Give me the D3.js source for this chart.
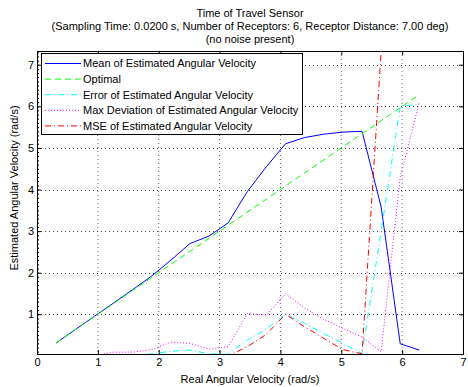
<!DOCTYPE html>
<html>
<head>
  <title>Time of Travel Sensor</title>
  <script type="text/javascript" src="https://d3js.org/d3.v7.min.js"></script>
  <style>
    body { margin: 0; background: #fff; }
    text { font-family: "Liberation Sans", Arial, sans-serif; fill: #000; }
  </style>
</head>
<body>
  <div id="container"></div>
  <script type="text/javascript">
    // real angular velocity: k*pi/10, k = 1..20
    var realVel = [0.314, 0.628, 0.942, 1.257, 1.571, 1.885, 2.199, 2.513, 2.827, 3.142,
                   3.456, 3.770, 4.084, 4.398, 4.712, 5.027, 5.341, 5.655, 5.969, 6.283];
    var meanEst = [0.31, 0.63, 0.95, 1.27, 1.59, 1.92, 2.30, 2.70, 2.88, 3.20,
                   3.95, 4.55, 5.10, 5.25, 5.33, 5.38, 5.40, 3.58, 0.29, 0.14];
    var optimal = realVel.slice();
    var errEst  = [0, 0, 0, 0, 0, 0.05, 0.11, 0.14, 0.05, 0.04,
                   0.38, 0.65, 1.00, 0.78, 0.54, 0.30, 0.06, 3.00, 6.00, 6.05];
    var maxDev  = [0, 0, 0, 0.09, 0.09, 0.15, 0.33, 0.30, 0.16, 0.22,
                   1.02, 0.98, 1.49, 1.15, 0.88, 0.66, 0.45, 0.10, 4.30, 6.10];
    var mseEst  = [0, 0, 0, 0, 0, 0, 0, 0, 0, 0,
                   0.22, 0.52, 1.00, 0.70, 0.42, 0.15, 0.05, 7.33, null, null];

    var xTicks = [0, 1, 2, 3, 4, 5, 6, 7];
    var yTicks = [1, 2, 3, 4, 5, 6, 7];
    var titleLines = ['Time of Travel Sensor',
      '(Sampling Time: 0.0200 s, Number of Receptors: 6, Receptor Distance: 7.00 deg)',
      '(no noise present)'];

    var series = [
      {name: 'Mean of Estimated Angular Velocity', values: meanEst, color: '#0000ff', dash: null},
      {name: 'Optimal', values: optimal, color: '#00ff00', dash: '6,4'},
      {name: 'Error of Estimated Angular Velocity', values: errEst, color: '#00ffff', dash: '6,3,1,3'},
      {name: 'Max Deviation of Estimated Angular Velocity', values: maxDev, color: '#ff00ff', dash: '1,2'},
      {name: 'MSE of Estimated Angular Velocity', values: mseEst, color: '#ff0000', dash: '6,3,1,3'}
    ];

    function drawChart() {
      var W = 468, H = 387;
      var margin = {top: 51, right: 5, bottom: 33, left: 37};
      var width = W - margin.left - margin.right,
          height = H - margin.top - margin.bottom;

      var svg = d3.select('#container').append('svg')
        .attr('width', W).attr('height', H);

      var x = d3.scaleLinear().domain([0, 7]).range([0, width]);
      var y = d3.scaleLinear().domain([0.045, 7.33]).range([height, 0]);

      var gp = svg.append('g').attr('transform', `translate(${margin.left},${margin.top})`);

      svg.append('defs').append('clipPath').attr('id', 'plotclip')
        .append('rect').attr('width', width).attr('height', height);

      // grid
      gp.selectAll('.vgrid').data(xTicks.slice(1, -1)).enter().append('line')
        .attr('x1', d => x(d)).attr('x2', d => x(d))
        .attr('y1', 0).attr('y2', height)
        .attr('stroke', '#666').attr('stroke-dasharray', '1,3');
      gp.selectAll('.hgrid').data(yTicks).enter().append('line')
        .attr('x1', 0).attr('x2', width)
        .attr('y1', d => Math.round(y(d)) + 0.5).attr('y2', d => Math.round(y(d)) + 0.5)
        .attr('stroke', '#444').attr('stroke-dasharray', '1,3');

      // axes (ticks inside, on all sides)
      var xb = gp.append('g').attr('transform', `translate(0,${height})`)
        .call(d3.axisBottom(x).tickValues(xTicks).tickSize(-4).tickPadding(4).tickFormat(d3.format('d')));
      var xt = gp.append('g')
        .call(d3.axisTop(x).tickValues(xTicks).tickSize(-4).tickFormat(''));
      var yl = gp.append('g')
        .call(d3.axisLeft(y).tickValues(yTicks).tickSize(-4).tickPadding(3).tickFormat(d3.format('d')));
      var yr = gp.append('g').attr('transform', `translate(${width},0)`)
        .call(d3.axisRight(y).tickValues(yTicks).tickSize(-4).tickFormat(''));
      // minor ticks on left axis
      gp.append('g')
        .call(d3.axisLeft(y).tickValues(d3.range(1, 74).map(d => d / 10)).tickSize(-2).tickFormat(''))
        .call(g => g.select('.domain').remove());
      [xb, xt, yl, yr].forEach(function (g) {
        g.selectAll('text').style('font-size', '11px').style('font-family', '"Liberation Sans", Arial, sans-serif');
        g.selectAll('path,line').attr('stroke', '#000');
      });
      gp.selectAll('.tick line').attr('stroke', '#000');

      // series
      var line = d3.line()
        .defined(d => d.v !== null)
        .x(d => x(d.x)).y(d => y(d.v));
      var plot = gp.append('g').attr('clip-path', 'url(#plotclip)');
      series.forEach(function (s) {
        var pts = realVel.map((v, i) => ({x: v, v: s.values[i]}));
        plot.append('path').datum(pts)
          .attr('d', line)
          .attr('fill', 'none')
          .attr('stroke', s.color)
          .attr('stroke-width', 1)
          .attr('stroke-dasharray', s.dash);
      });

      // legend
      var lg = gp.append('g').attr('transform', 'translate(4,2)');
      lg.append('rect').attr('x', 0.5).attr('y', 0.5).attr('width', 261).attr('height', 81)
        .attr('fill', '#fff').attr('stroke', '#000');
      series.forEach(function (s, i) {
        var ly = 10.5 + i * 15.6;
        lg.append('line').attr('x1', 4).attr('x2', 40).attr('y1', ly).attr('y2', ly)
          .attr('stroke', s.color).attr('stroke-dasharray', s.dash);
        lg.append('text').attr('x', 42).attr('y', ly).attr('dy', '0.35em')
          .style('font-size', '11px').text(s.name);
      });

      // title
      svg.selectAll('.title').data(titleLines).enter().append('text')
        .attr('x', margin.left + width / 2).attr('y', (d, i) => 13 + i * 13.2)
        .attr('dy', '0.35em').attr('text-anchor', 'middle')
        .style('font-size', '11px').text(d => d);

      svg.append('text')
        .attr('x', margin.left + width / 2).attr('y', 379).attr('dy', '0.35em')
        .attr('text-anchor', 'middle').style('font-size', '11px')
        .text('Real Angular Velocity (rad/s)');
      svg.append('text')
        .attr('transform', 'translate(14,188) rotate(-90)').attr('dy', '0.35em')
        .attr('text-anchor', 'middle').style('font-size', '11px')
        .text('Estimated Angular Velocity (rad/s)');
    }

    drawChart();
  </script>
</body>
</html>
